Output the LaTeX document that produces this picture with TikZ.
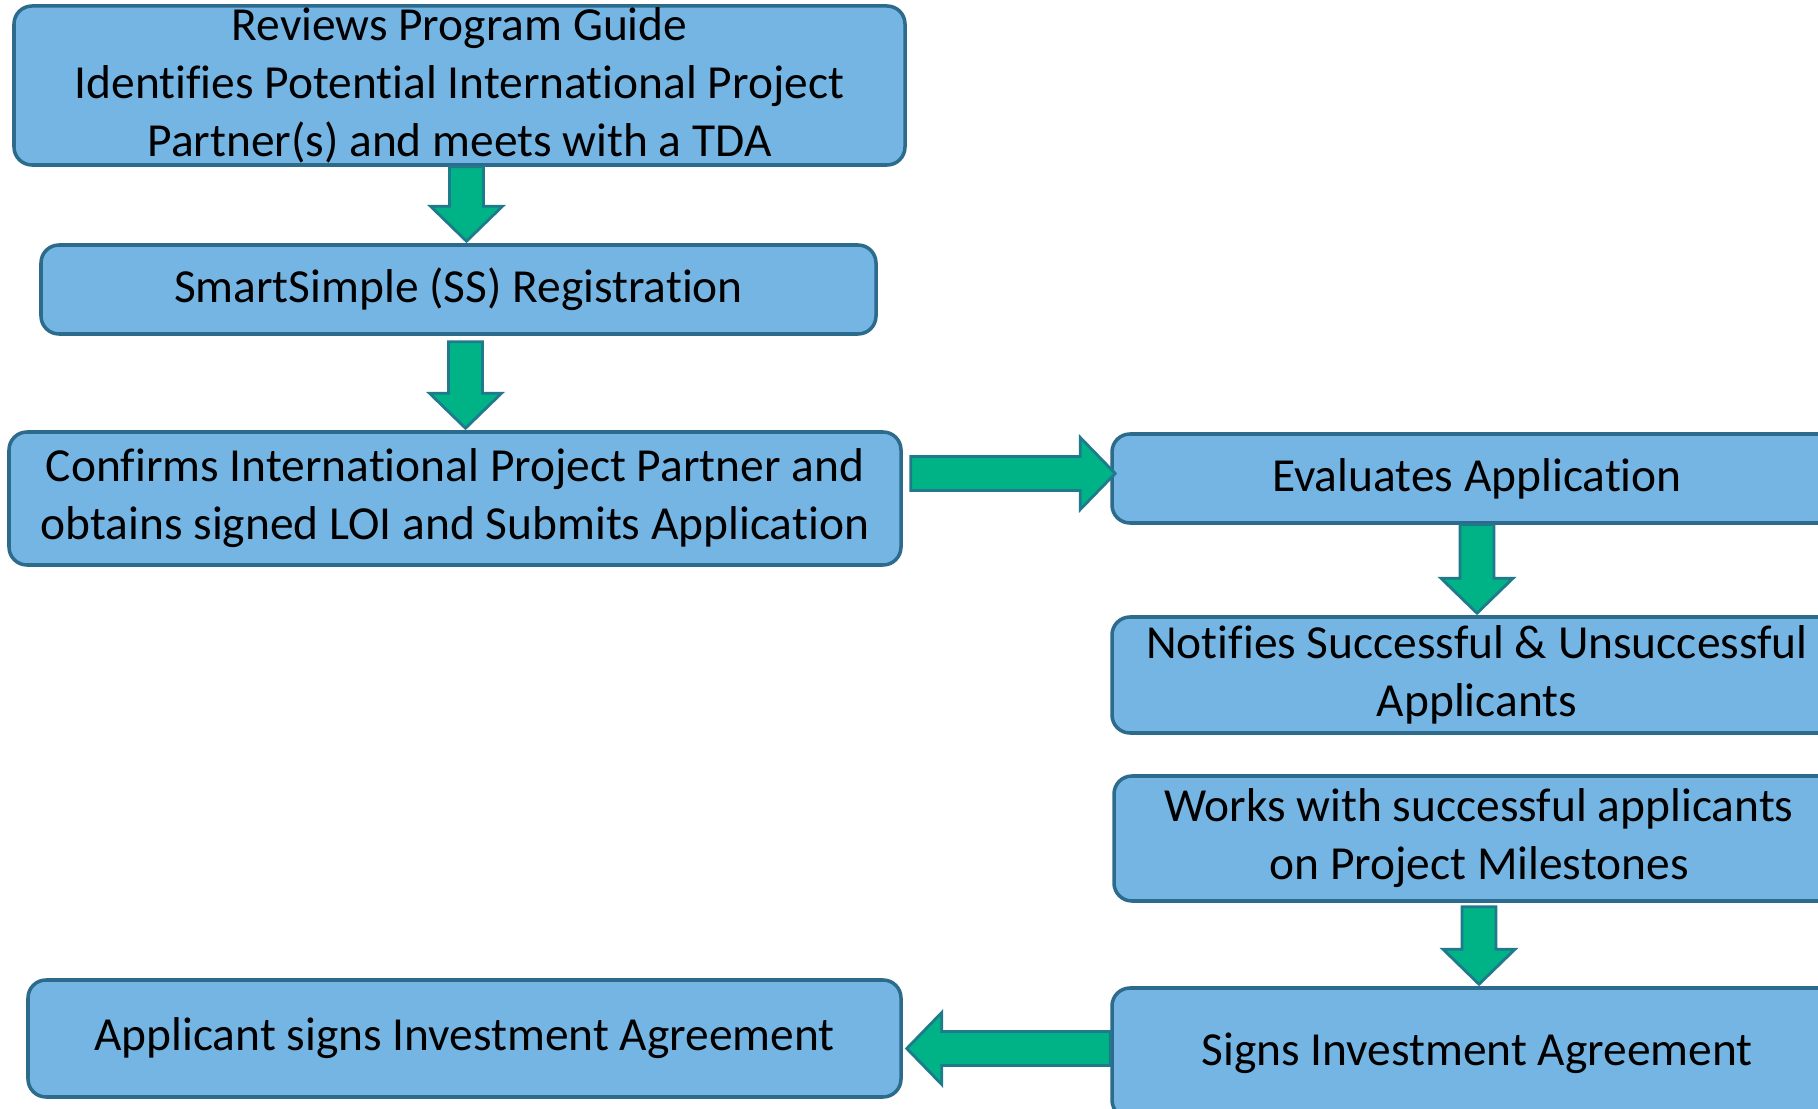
\documentclass[tikz,border=0pt]{standalone}
\usepackage{fontspec}
\setmainfont{Carlito}[Ligatures=NoCommon, RawFeature={-clig;-calt;-dlig}]
\usetikzlibrary{calc}

\definecolor{boxfill}{RGB}{117,181,227}
\definecolor{boxline}{RGB}{44,107,140}
\definecolor{arrowfill}{RGB}{0,179,134}
\definecolor{arrowline}{RGB}{31,122,140}

\tikzset{
  stepbox/.style={rectangle, draw=boxline, fill=boxfill, line width=1pt,
    rounded corners=0.18cm, align=center, inner sep=0pt,
    font=\fontsize{13.5pt}{16.5pt}\selectfont},
  flowarrow/.style={draw=arrowline, fill=arrowfill, line width=0.8pt, line join=miter}
}

% block arrow going down from #1 to #2
\newcommand{\flowdown}[2]{%
  \path[flowarrow] let \p1=(#1), \p2=(#2.north) in
    (\x1-0.17cm,\y1) -- (\x1-0.17cm,\y2+0.37cm) -- (\x1-0.36cm,\y2+0.37cm) --
    (\x1,\y2+0.02cm) -- (\x1+0.36cm,\y2+0.37cm) -- (\x1+0.17cm,\y2+0.37cm) --
    (\x1+0.17cm,\y1) -- cycle;}
% block arrow going sideways from #1 to #2 (#3 = +1 right, -1 left)
\newcommand{\flowside}[3]{%
  \path[flowarrow] let \p1=(#1), \p2=(#2) in
    (\x1,\y2-0.17cm) -- (\x2-#3*0.35cm,\y2-0.17cm) -- (\x2-#3*0.35cm,\y2-0.36cm) --
    (\x2,\y2) -- (\x2-#3*0.35cm,\y2+0.36cm) -- (\x2-#3*0.35cm,\y2+0.17cm) --
    (\x1,\y2+0.17cm) -- cycle;}

\begin{document}
\begin{tikzpicture}
  \useasboundingbox (0,0) rectangle (18.18,-11.09);
  \clip (0,0) rectangle (18.18,-11.09);

  % left column
  \node[stepbox, minimum width=8.91cm, minimum height=1.59cm] (R) at (4.595,-0.855)
    {Reviews Program Guide\\Identifies Potential International Project\\Partner(s) and meets with a TDA};
  \node[stepbox, minimum width=8.35cm, minimum height=0.89cm] (SS) at (4.585,-2.895)
    {SmartSimple (SS) Registration};
  \node[stepbox, minimum width=8.92cm, minimum height=1.33cm] (C) at (4.55,-4.985)
    {Confirms International Project Partner and\\obtains signed LOI and Submits Application};
  \node[stepbox, minimum width=8.73cm, minimum height=1.17cm] (A) at (4.645,-10.385)
    {Applicant signs Investment Agreement};

  % right column
  \node[stepbox, minimum width=7.3cm, minimum height=0.89cm] (E) at (14.77,-4.785)
    {Evaluates Application};
  \node[stepbox, minimum width=7.3cm, minimum height=1.16cm] (N) at (14.77,-6.75)
    {Notifies Successful \& Unsuccessful\\Applicants};
  \node[stepbox, minimum width=7.3cm, minimum height=1.25cm] (W) at (14.79,-8.385)
    {Works with successful applicants\\on Project Milestones};
  \node[stepbox, minimum width=7.3cm, minimum height=1.30cm] (S) at (14.77,-10.53)
    {Signs Investment Agreement};

  % arrows
  \flowdown{$(R.south)+(0.07,0)$}{SS}
  \flowdown{$(SS.south)+(0.07,-0.06)$}{C}
  \flowside{$(C.east)+(0.08,0)$}{$(E.west)+(0.05,0.05)$}{1}
  \flowdown{E.south}{N}
  \flowdown{$(W.south)+(0,-0.04)$}{S}
  \flowside{S.west}{$(A.east)+(0.04,-0.1)$}{-1}
\end{tikzpicture}
\end{document}
